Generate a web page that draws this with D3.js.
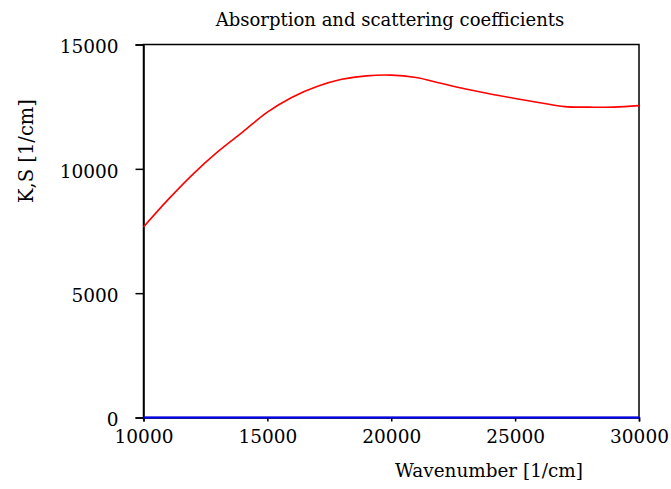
<!DOCTYPE html>
<html>
<head>
<meta charset="utf-8">
<script src="https://cdn.jsdelivr.net/npm/d3@7"></script>
<style>
  html, body { margin: 0; padding: 0; background: #fff; }
  svg { display: block; }
  text { font-family: "DejaVu Serif", serif; fill: #000; }
</style>
</head>
<body>
<svg id="chart" width="671" height="489"></svg>
<script>
// ---- data ----
const title = "Absorption and scattering coefficients";
const xLabel = "Wavenumber [1/cm]";
const yLabel = "K,S [1/cm]";
const wavenumber = [10000, 11000, 12000, 13000, 14000, 15000, 16000, 17000, 18000, 19000, 20000,
                    21000, 22000, 23000, 24000, 25000, 26000, 27000, 28000, 29000, 30000];
const absorptionK = [7660, 8770, 9790, 10690, 11480, 12280, 12880, 13310, 13600, 13740, 13770,
                     13670, 13440, 13210, 13010, 12830, 12660, 12500, 12480, 12480, 12540];
const scatteringS = [0, 0, 0, 0, 0, 0, 0, 0, 0, 0, 0,
                     0, 0, 0, 0, 0, 0, 0, 0, 0, 0];
const xTicks = [10000, 15000, 20000, 25000, 30000];
const yTicks = [0, 5000, 10000, 15000];

// ---- layout ----
const svg = d3.select("#chart");
const pL = 143.5, pR = 639, pT = 44.5, pB = 417.5;

const x = d3.scaleLinear().domain([10000, 30000]).range([pL, pR]);
const y = d3.scaleLinear().domain([0, 15000]).range([pB, pT]);

// frame
svg.append("rect")
  .attr("x", pL).attr("y", pT)
  .attr("width", pR - pL).attr("height", pB - pT)
  .attr("fill", "none").attr("stroke", "#000").attr("stroke-width", 1.5);

// y axis
const yAxis = svg.append("g")
  .attr("transform", `translate(${pL},0)`)
  .call(d3.axisLeft(y).tickValues(yTicks).tickFormat(d3.format("d")).tickSize(8).tickPadding(17));
yAxis.select(".domain").attr("stroke", "#000").attr("stroke-width", 1.5);
yAxis.selectAll(".tick line").attr("stroke", "#000").attr("stroke-width", 1.5);
yAxis.selectAll(".tick text")
  .style("font-family", "DejaVu Serif").style("font-size", "18.5px").attr("dy", "0.45em");

// x axis
const xAxis = svg.append("g")
  .attr("transform", `translate(0,${pB})`)
  .call(d3.axisBottom(x).tickValues(xTicks).tickFormat(d3.format("d")).tickSize(4).tickPadding(8));
xAxis.select(".domain").attr("stroke", "#000").attr("stroke-width", 1.5);
xAxis.selectAll(".tick line").attr("stroke", "#000").attr("stroke-width", 1.5);
xAxis.selectAll(".tick text")
  .style("font-family", "DejaVu Serif").style("font-size", "18.5px");

// lines
const kData = wavenumber.map((w, i) => [w, absorptionK[i]]);
const sData = wavenumber.map((w, i) => [w, scatteringS[i]]);
const line = d3.line().x(d => x(d[0])).y(d => y(d[1])).curve(d3.curveCatmullRom.alpha(0.5));

svg.append("path").datum(sData)
  .attr("d", line).attr("fill", "none")
  .attr("stroke", "#0000ff").attr("stroke-width", 2);
svg.append("path").datum(kData)
  .attr("d", line).attr("fill", "none")
  .attr("stroke", "#ff0000").attr("stroke-width", 1.6);

// titles
svg.append("text")
  .attr("x", 390).attr("y", 26)
  .attr("text-anchor", "middle")
  .style("font-size", "18px")
  .text(title);

svg.append("text")
  .attr("x", 489).attr("y", 477)
  .attr("text-anchor", "middle")
  .style("font-size", "18.4px")
  .text(xLabel);

svg.append("text")
  .attr("transform", "translate(33,151) rotate(-90)")
  .attr("text-anchor", "middle")
  .style("font-size", "19.5px")
  .text(yLabel);
</script>
</body>
</html>
